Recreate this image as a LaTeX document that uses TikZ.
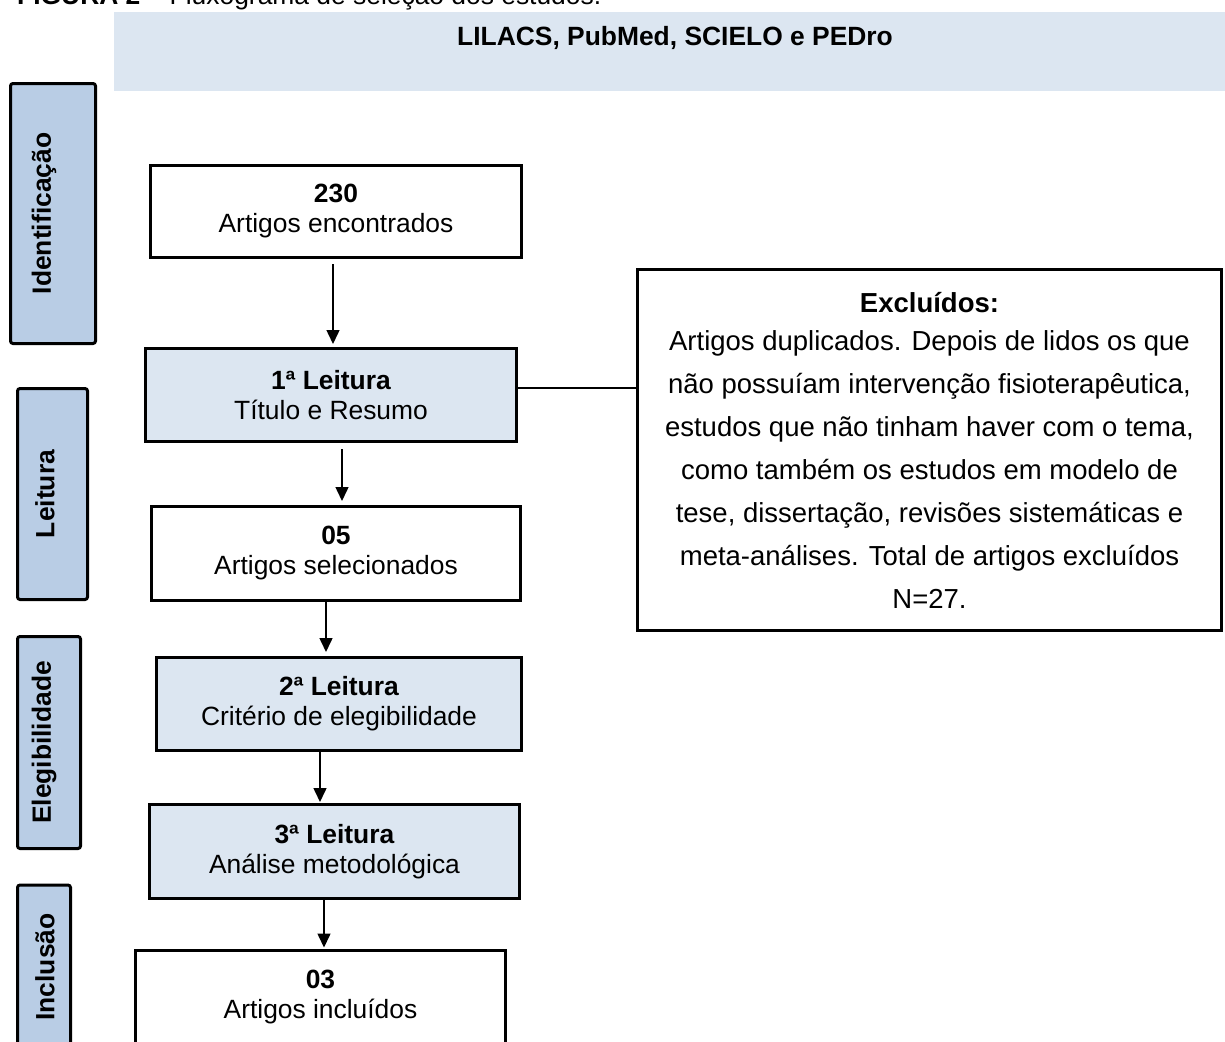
\documentclass[tikz,border=0pt]{standalone}
\usepackage{fontspec}
\setmainfont{Liberation Sans}
\usetikzlibrary{arrows.meta,calc}
\definecolor{bandblue}{HTML}{DCE6F1}
\definecolor{sideblue}{HTML}{B9CDE5}
\begin{document}
\begin{tikzpicture}[x=1pt,y=-1pt,
  bodyfont/.style={font=\fontsize{26.4}{30}\selectfont},
  mainbox/.style={draw,line width=3pt,align=center,inner sep=0pt,bodyfont},
  whitebox/.style={mainbox,fill=white},
  bluebox/.style={mainbox,fill=bandblue},
  sidebox/.style={draw,line width=3pt,rounded corners=2.5pt,fill=sideblue,inner sep=0pt},
  sidetext/.style={rotate=90,inner sep=0pt,font=\fontsize{26.4}{30}\selectfont\bfseries},
  arr/.style={line width=1.5pt,-{Triangle[length=14pt,width=13pt]}},
  link/.style={line width=1.5pt}
]
\useasboundingbox (0,0) rectangle (1225,1041);

% caption (cut off at the top)
\node[anchor=base west,inner sep=0pt,bodyfont] (cap) at (17,5) {\textbf{FIGURA 2} – Fluxograma de seleção dos estudos.};

% top band
\node[fill=bandblue,inner sep=0pt,minimum width=1111pt,minimum height=79pt,anchor=north west] (band) at (114,12) {};
\node[inner sep=0pt,font=\fontsize{26.4}{30}\selectfont\bfseries] (bandtxt) at (675,38) {LILACS, PubMed, SCIELO e PEDro};

% side boxes
\node[sidebox,minimum width=85pt,minimum height=260pt] (sIdent) at (53,213.5) {};
\node[sidetext] (tIdent) at (44,213.5) {Identificação};
\node[sidebox,minimum width=70pt,minimum height=211pt] (sLeit) at (52.5,494) {};
\node[sidetext] (tLeit) at (45,494) {Leitura};
\node[sidebox,minimum width=63pt,minimum height=212pt] (sEleg) at (49,742.5) {};
\node[sidetext] (tEleg) at (44,742.5) {Elegibilidade};
\node[sidebox,minimum width=53pt,minimum height=200pt,anchor=north] (sIncl) at (44,883.5) {};
\node[sidetext] (tIncl) at (45,967) {Inclusão};

% main boxes
\node[whitebox,minimum width=371pt,minimum height=92pt] (b230) at (336,211.5) {\textbf{230}\\Artigos encontrados};
\node[bluebox,minimum width=371pt,minimum height=93pt] (b1) at (331,395) {\textbf{1ª Leitura}\\Título e Resumo};
\node[whitebox,minimum width=369pt,minimum height=94pt] (b05) at (336,553.5) {\textbf{05}\\Artigos selecionados};
\node[bluebox,minimum width=365pt,minimum height=93pt] (b2) at (339,704) {\textbf{2ª Leitura}\\Critério de elegibilidade};
\node[bluebox,minimum width=370pt,minimum height=94pt] (b3) at (334.5,851.5) {\textbf{3ª Leitura}\\Análise metodológica};
\node[whitebox,minimum width=370pt,minimum height=94pt,anchor=north] (b03) at (320.5,948.5) {\textbf{03}\\Artigos incluídos};

% excluded box
\node[draw,line width=3pt,fill=white,align=center,inner sep=0pt,minimum width=584pt,minimum height=361pt,
      font=\fontsize{27.5}{43}\selectfont] (exc) at (929.5,450)
  {\textbf{Excluídos:}\\[-5pt]
   Artigos duplicados. Depois de lidos os que\\
   não possuíam intervenção fisioterapêutica,\\
   estudos que não tinham haver com o tema,\\
   como também os estudos em modelo de\\
   tese, dissertação, revisões sistemáticas e\\
   meta-análises. Total de artigos excluídos\\
   N=27.};

% connectors
\draw[arr,shorten >=3pt] ([xshift=-3pt,yshift=-5pt]b230.south) -- ([xshift=-3pt]b230.south |- b1.north);
\draw[arr,shorten >=4pt] ([xshift=11pt,yshift=-6pt]b1.south) -- ([xshift=11pt]b1.south |- b05.north);
\draw[arr,shorten >=4pt] ([xshift=-10pt]b05.south) -- ([xshift=-10pt]b05.south |- b2.north);
\draw[arr,shorten >=1pt] ([xshift=-19pt]b2.south) -- ([xshift=-19pt]b2.south |- b3.north);
\draw[arr,shorten >=1pt] ([xshift=-10.5pt,yshift=2pt]b3.south) -- ([xshift=-10.5pt]b3.south |- b03.north);
\draw[link] ([yshift=7pt]b1.east) -- ([yshift=7pt]b1.east -| exc.west);
\end{tikzpicture}
\end{document}
